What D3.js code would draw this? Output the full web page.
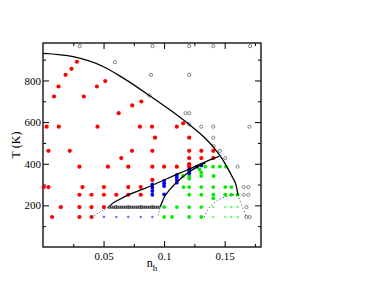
<!DOCTYPE html>
<html>
<head>
<meta charset="utf-8">
<script src="https://cdn.jsdelivr.net/npm/d3@7"></script>
<style>
    body { margin: 0; background: #fff; }
    svg { display: block; }
</style>
</head>
<body>
<div id="chart-container"></div>
<script>
// Data: [n_h, T]
const redPts = [
    [0.028, 890], [0.0235, 856], [0.0186, 827], [0.0128, 771], [0.0514, 797], [0.0445, 771],
    [0.0091, 723], [0.0337, 723], [0.0812, 699], [0.0737, 680], [0.0625, 643],
    [0.003, 578], [0.013, 578], [0.045, 578], [0.08, 578], [0.09, 578], [0.1105, 578], [0.1157, 594],
    [0.0925, 525], [0.1207, 525],
    [0.0045, 462], [0.0221, 462], [0.0735, 462], [0.0903, 462], [0.1207, 462], [0.1307, 462], [0.1406, 462],
    [0.0646, 427], [0.1207, 427], [0.1307, 427], [0.1406, 427],
    [0.0301, 386], [0.0536, 386], [0.0704, 386], [0.0903, 386], [0.1, 386], [0.1105, 386], [0.1207, 386], [0.1207, 398],
    [0.0903, 322],
    [0.0006, 288], [0.0045, 288], [0.0326, 288], [0.0503, 288], [0.0704, 288], [0.0807, 288],
    [0.0301, 251], [0.0401, 251], [0.0503, 251], [0.0605, 251], [0.0704, 251], [0.0807, 251],
    [0.0147, 192], [0.0301, 192], [0.0401, 192], [0.0503, 192],
    [0.0075, 144], [0.0301, 144], [0.0401, 144]
];
const bluePts = [
    [0.0605, 192], [0.0704, 192], [0.0807, 192], [0.0903, 192],
    [0.0903, 301], [0.0903, 285], [0.0903, 269], [0.0903, 251],
    [0.1, 318], [0.1, 306], [0.1, 293], [0.1, 253],
    [0.1105, 346], [0.1105, 335], [0.1105, 322], [0.1105, 309],
    [0.1207, 373], [0.1207, 362], [0.1207, 354],
    [0.127, 386], [0.1307, 392]
];
const blueSmall = [[0.0503, 144], [0.0605, 144], [0.0704, 144], [0.0807, 144], [0.0903, 144]];
const greenPts = [
    [0.134, 386], [0.1405, 386], [0.146, 386], [0.151, 386],
    [0.1292, 373], [0.1307, 358],
    [0.1155, 341], [0.1207, 341], [0.1207, 328], [0.1307, 341], [0.1409, 341],
    [0.116, 288], [0.1207, 288], [0.1307, 288], [0.1406, 288], [0.1505, 288], [0.1555, 288],
    [0.1207, 251], [0.1307, 251], [0.1406, 251], [0.1505, 251], [0.1555, 251], [0.1607, 251],
    [0.1406, 234],
    [0.1, 192], [0.1105, 192], [0.1207, 192], [0.1307, 192],
    [0.1, 144], [0.1065, 144], [0.1207, 144], [0.1307, 144]
];
const greenSmall = [
    [0.1406, 192], [0.1505, 192], [0.1555, 192], [0.1607, 192],
    [0.1406, 144], [0.1505, 144], [0.1555, 144], [0.1607, 144]
];
const openPts = [
    [0.0304, 965], [0.0903, 965], [0.1207, 965], [0.1406, 965], [0.171, 965],
    [0.0594, 888], [0.0892, 827], [0.1207, 827], [0.0878, 728],
    [0.1177, 643], [0.1207, 643], [0.1207, 590],
    [0.1307, 578], [0.1406, 578], [0.1705, 578],
    [0.1406, 525], [0.1409, 485], [0.146, 462], [0.1505, 427], [0.1607, 386],
    [0.1657, 288], [0.1696, 288], [0.1657, 251], [0.1696, 251],
    [0.168, 192], [0.168, 144], [0.1706, 144]
];

// Boundary lines
const outerCurve = [[0, 930], [0.025, 914], [0.05, 866], [0.065, 816], [0.0878, 728], [0.105, 658], [0.12, 592],
    [0.1326, 530], [0.1409, 479], [0.146, 440], [0.152, 384], [0.156, 340], [0.1597, 290], [0.161, 252]];
const upperCurve = [[0.0539, 191], [0.0555, 200], [0.0594, 217], [0.065, 234], [0.0704, 250], [0.0843, 282],
    [0.1, 322], [0.119, 370], [0.141, 426], [0.1455, 436]];
const lowerCurve = [[0.0967, 191], [0.1, 238], [0.105, 278], [0.113, 325], [0.12, 358], [0.127, 384], [0.134, 404]];
const flatLine = [[0.0539, 191], [0.0967, 191]];
const dottedLeft = [[0.0401, 144], [0.0539, 191]];
const dottedMid = [[0.0953, 152], [0.0967, 191]];
const dottedArc = [[0.133, 143], [0.1355, 175], [0.138, 194], [0.1436, 222], [0.1505, 241], [0.157, 251], [0.1607, 253]];
const dottedDrop = [[0.1607, 252], [0.1644, 194], [0.168, 146]];

// Ticks
const xTicks = [0.05, 0.1, 0.15];
const xMinor = [0.025, 0.075, 0.125, 0.175];
const yTicks = [200, 400, 600, 800];
const yMinor = [100, 300, 500, 700, 900];

const margin = { top: 43, right: 115, bottom: 44, left: 43 };
const width = 376 - margin.left - margin.right;
const height = 291 - margin.top - margin.bottom;
const serif = '"Liberation Serif", "Times New Roman", serif';

const svg = d3.select('#chart-container').append('svg')
    .attr('width', 376)
    .attr('height', 291)
    .append('g')
    .attr('transform', `translate(${margin.left},${margin.top})`);

const x = d3.scaleLinear().domain([0, 0.18]).range([0, width]);
const y = d3.scaleLinear().domain([0, 980]).range([height, 0]);

// axes (ticks point inwards on all four sides)
function styleAxis(g) {
    g.select('.domain').remove();
    g.attr('font-family', serif).attr('font-size', 11);
    g.selectAll('.tick line').attr('stroke', '#000');
    g.selectAll('.tick text').attr('fill', '#000');
}
svg.append('g').attr('transform', `translate(0,${height})`)
    .call(d3.axisBottom(x).tickValues(xTicks).tickSize(-6).tickPadding(5).tickFormat(d => d)).call(styleAxis);
svg.append('g').attr('transform', `translate(0,${height})`)
    .call(d3.axisBottom(x).tickValues(xMinor).tickSize(-3).tickFormat('')).call(styleAxis);
svg.append('g')
    .call(d3.axisTop(x).tickValues(xTicks).tickSize(-6).tickFormat('')).call(styleAxis);
svg.append('g')
    .call(d3.axisTop(x).tickValues(xMinor).tickSize(-3).tickFormat('')).call(styleAxis);
svg.append('g')
    .call(d3.axisLeft(y).tickValues(yTicks).tickSize(-6).tickPadding(2)).call(styleAxis);
svg.append('g')
    .call(d3.axisLeft(y).tickValues(yMinor).tickSize(-3).tickFormat('')).call(styleAxis);
svg.append('g').attr('transform', `translate(${width},0)`)
    .call(d3.axisRight(y).tickValues(yTicks).tickSize(-6).tickFormat('')).call(styleAxis);
svg.append('g').attr('transform', `translate(${width},0)`)
    .call(d3.axisRight(y).tickValues(yMinor).tickSize(-3).tickFormat('')).call(styleAxis);

svg.append('rect')
    .attr('width', width)
    .attr('height', height)
    .attr('fill', 'none')
    .attr('stroke', '#000')
    .attr('stroke-width', 1.3);

// points
function dots(pts, r, fill, stroke) {
    svg.append('g').selectAll('circle')
        .data(pts)
        .enter().append('circle')
        .attr('cx', d => x(d[0]))
        .attr('cy', d => y(d[1]))
        .attr('r', r)
        .attr('fill', fill)
        .attr('stroke', stroke || 'none')
        .attr('stroke-width', 0.8);
}
dots(openPts, 1.6, 'none', '#666');
dots(redPts, 2.1, '#ff0000');
dots(greenPts, 1.9, '#00ee00');
dots(greenSmall, 1.2, '#66ff66');
dots(bluePts, 1.9, '#0000ff');
dots(blueSmall, 1.2, '#6a6aff');

// lines
const line = d3.line().x(d => x(d[0])).y(d => y(d[1])).curve(d3.curveMonotoneX);
function path(pts, w, color, dash) {
    svg.append('path')
        .datum(pts)
        .attr('d', line)
        .attr('fill', 'none')
        .attr('stroke', color)
        .attr('stroke-width', w)
        .attr('stroke-dasharray', dash || null);
}
path(outerCurve, 1.3, '#000');
path(upperCurve, 1.3, '#000');
path(lowerCurve, 1.3, '#000');
path(flatLine, 3, '#999');
path(flatLine, 3, '#222', '1,1');
path(dottedLeft, 1, '#444', '1,2');
path(dottedMid, 1, '#444', '1,2');
path(dottedArc, 1, '#333', '1,2.5');
path(dottedDrop, 1, '#333', '1,2.5');

// labels
svg.append('text')
    .attr('transform', 'rotate(-90)')
    .attr('x', -height / 2)
    .attr('y', -23.5)
    .attr('text-anchor', 'middle')
    .attr('font-family', serif)
    .attr('font-size', 12)
    .text('T (K)');

const xl = svg.append('text')
    .attr('x', width / 2)
    .attr('y', height + 20)
    .attr('text-anchor', 'middle')
    .attr('font-family', serif)
    .attr('font-size', 12);
xl.append('tspan').text('n');
xl.append('tspan').attr('font-size', 9).attr('dy', 4).text('h');
</script>
</body>
</html>
